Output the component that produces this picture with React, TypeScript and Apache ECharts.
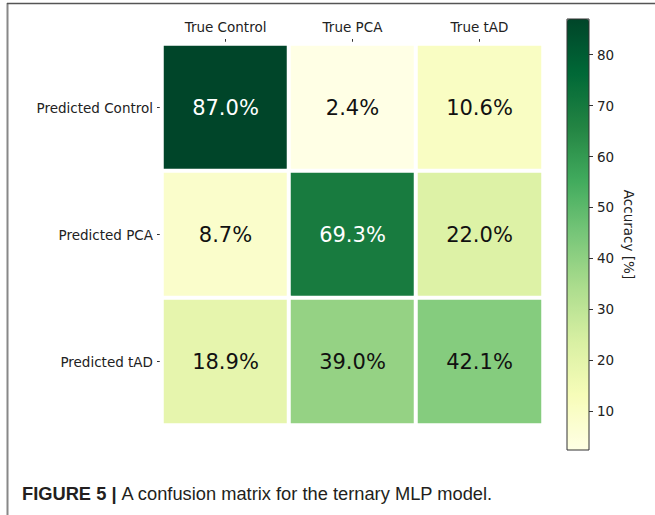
import React, { useEffect, useRef } from "react";
import * as echarts from "echarts";

const trueLabels = ["True Control", "True PCA", "True tAD"];
const predictedLabels = ["Predicted Control", "Predicted PCA", "Predicted tAD"];
// rows = predicted, columns = true
const row0 = [87.0, 2.4, 10.6];
const row1 = [8.7, 69.3, 22.0];
const row2 = [18.9, 39.0, 42.1];
const matrix = [row0, row1, row2];
const colorbarTicks = [10, 20, 30, 40, 50, 60, 70, 80];
const ylGn = ["#ffffe5", "#f7fcb9", "#d9f0a3", "#addd8e", "#78c679", "#41ab5d", "#238443", "#006837", "#004529"];

export default function App() {
  const ref = useRef<HTMLDivElement>(null);
  useEffect(() => {
    if (!ref.current) return;
    const chart = echarts.init(ref.current, null, { renderer: "svg" });
    const all = matrix.flat();
    const vmin = Math.min(...all);
    const vmax = Math.max(...all);
    const thresh = (vmin + vmax) / 2;
    const data: any[] = [];
    matrix.forEach((row, yi) =>
      row.forEach((v, xi) =>
        data.push({
          value: [xi, yi, v],
          label: { color: v > thresh ? "#ffffff" : "#111111" },
        })
      )
    );
    const font = "DejaVu Sans";
    chart.setOption({
      animation: false,
      backgroundColor: "#ffffff",
      grid: [
        { left: 162, top: 44, width: 381, height: 381 },
        { left: 567, top: 19, width: 22, height: 431 },
      ],
      xAxis: [
        {
          type: "category",
          gridIndex: 0,
          data: trueLabels,
          position: "top",
          axisLine: { show: false },
          axisTick: { show: true, length: 5, alignWithLabel: true, lineStyle: { color: "#333" } },
          axisLabel: { fontFamily: font, fontSize: 13.5, color: "#222", margin: 10 },
          splitLine: { show: false },
        },
        { type: "category", gridIndex: 1, data: ["c"], show: false },
      ],
      yAxis: [
        {
          type: "category",
          gridIndex: 0,
          data: predictedLabels,
          inverse: true,
          axisLine: { show: false },
          axisTick: { show: true, length: 5, alignWithLabel: true, lineStyle: { color: "#333" } },
          axisLabel: { fontFamily: font, fontSize: 13.5, color: "#222", margin: 9 },
          splitLine: { show: false },
        },
        {
          type: "value",
          gridIndex: 1,
          min: vmin,
          max: vmax,
          position: "right",
          axisLine: { show: false },
          axisTick: { show: true, length: 4, customValues: colorbarTicks, lineStyle: { color: "#333" } },
          axisLabel: { fontFamily: font, fontSize: 13.5, color: "#222", margin: 8, customValues: colorbarTicks },
          splitLine: { show: false },
          name: "Accuracy [%]",
          nameLocation: "middle",
          nameRotate: -90,
          nameGap: 33,
          nameTextStyle: { fontFamily: font, fontSize: 13.5, color: "#222" },
        },
      ],
      visualMap: {
        type: "continuous",
        min: vmin,
        max: vmax,
        seriesIndex: 0,
        calculable: false,
        orient: "vertical",
        left: 567,
        top: 19,
        itemWidth: 22,
        itemHeight: 431,
        padding: 0,
        inRange: { color: ylGn },
        hoverLink: false,
      },
      series: [
        {
          type: "heatmap",
          xAxisIndex: 0,
          yAxisIndex: 0,
          data,
          itemStyle: { borderColor: "#ffffff", borderWidth: 4 },
          label: {
            show: true,
            fontFamily: font,
            fontSize: 21,
            formatter: (p: any) => p.value[2].toFixed(1) + "%",
          },
          emphasis: { disabled: true },
        },
      ],
      graphic: [
        {
          type: "rect",
          z: 100,
          shape: { x: 567, y: 19, width: 22, height: 431 },
          style: { fill: "none", stroke: "#333", lineWidth: 1 },
        },
        {
          type: "line",
          z: 100,
          shape: { x1: 7.5, y1: 3, x2: 7.5, y2: 515 },
          style: { stroke: "#888", lineWidth: 2 },
        },
        {
          type: "line",
          z: 100,
          shape: { x1: 7, y1: 3.5, x2: 655, y2: 3.5 },
          style: { stroke: "#555", lineWidth: 1.5 },
        },
        {
          type: "text",
          z: 100,
          x: 22,
          y: 493,
          style: {
            text: "{b|FIGURE 5 |}{r|\u00a0A confusion matrix for the ternary MLP model.}",
            verticalAlign: "middle",
            rich: {
              b: { fontFamily: "Liberation Sans", fontWeight: "bold", fontSize: 18.3, fill: "#231f20" },
              r: { fontFamily: "Liberation Sans", fontSize: 18.3, fill: "#231f20" },
            },
          },
        },
      ],
    });
    return () => chart.dispose();
  }, []);
  return (
    <div
      ref={ref}
      style={{ position: "fixed", left: 0, top: 0, width: 655, height: 515 }}
    />
  );
}
